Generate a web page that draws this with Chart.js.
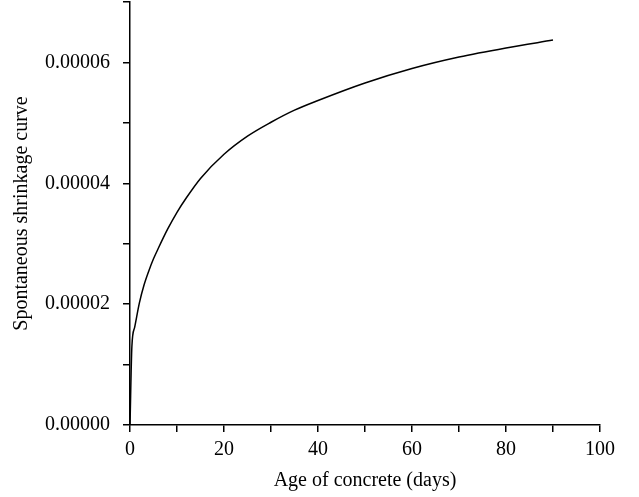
<!DOCTYPE html>
<html>
<head>
<meta charset="utf-8">
<script src="https://cdn.jsdelivr.net/npm/chart.js@4/dist/chart.umd.min.js"></script>
<style>
  html, body { margin: 0; padding: 0; background: #fff; }
  #wrap { width: 639px; height: 497px; }
</style>
</head>
<body>
<div id="wrap"><canvas id="shrinkageChart" width="639" height="497"></canvas></div>
<script>
// Age of concrete (days) and shrinkage
const ageDays = [0, 0.4, 1, 2, 3, 4, 5, 6, 8, 10, 12, 15, 20, 25, 30, 35, 40, 50, 60, 70, 80, 90];
const shrinkage = [
  0, 1.30e-5, 1.62e-5, 2.02e-5, 2.32e-5, 2.55e-5, 2.75e-5, 2.92e-5, 3.24e-5, 3.52e-5,
  3.76e-5, 4.08e-5, 4.48e-5, 4.78e-5, 5.01e-5, 5.21e-5, 5.37e-5, 5.66e-5, 5.90e-5,
  6.09e-5, 6.24e-5, 6.37e-5
];
const xTickLabels = [0, 20, 40, 60, 80, 100];
const yTickLabels = ["0.00000", "0.00002", "0.00004", "0.00006"];

(function () {
  "use strict";

  const font = { family: "'Liberation Serif', 'DejaVu Serif', serif", size: 20 };
  const ink = "#000";

  const ctx = document.getElementById("shrinkageChart");
  new Chart(ctx, {
    type: "line",
    data: {
      datasets: [
        {
          data: ageDays.map((t, i) => ({ x: t, y: shrinkage[i] })),
          borderColor: ink,
          borderWidth: 1.5,
          pointRadius: 0,
          cubicInterpolationMode: "monotone",
          fill: false,
        },
      ],
    },
    options: {
      responsive: false,
      animation: false,
      devicePixelRatio: 1,
      layout: { padding: { top: 2, right: 39, bottom: 0, left: 0 } },
      plugins: { legend: { display: false }, tooltip: { enabled: false } },
      scales: {
        x: {
          type: "linear",
          min: 0,
          max: 100,
          afterFit: (scale) => {
            scale.height = 72;
            scale.paddingRight = 0;
          },
          border: { display: true, color: ink, width: 1.5 },
          grid: { drawOnChartArea: false, drawTicks: true, tickLength: 7, color: ink, lineWidth: 1.5 },
          ticks: {
            stepSize: 10,
            color: ink,
            font: font,
            padding: 6,
            maxRotation: 0,
            autoSkip: false,
            // only every other tick carries a label
            callback: (v) => (xTickLabels.includes(v) ? String(v) : ""),
          },
          title: { display: true, text: "Age of concrete (days)", color: ink, font: font, padding: { top: 4, bottom: 4 } },
        },
        y: {
          type: "linear",
          min: 0,
          max: 0.00007,
          afterFit: (scale) => {
            scale.width = 130;
            scale.paddingTop = 0;
          },
          border: { display: true, color: ink, width: 1.5 },
          grid: { drawOnChartArea: false, drawTicks: true, tickLength: 7, color: ink, lineWidth: 1.5 },
          ticks: {
            stepSize: 0.00001,
            color: ink,
            font: font,
            padding: 13,
            autoSkip: false,
            callback: (v) => {
              const n = Math.round(v * 1e5);
              return n % 2 === 0 ? yTickLabels[n / 2] || "" : "";
            },
          },
          title: { display: true, text: "Spontaneous shrinkage curve", color: ink, font: font, padding: { top: 10, bottom: 0 } },
        },
      },
    },
  });
})();
</script>
</body>
</html>
